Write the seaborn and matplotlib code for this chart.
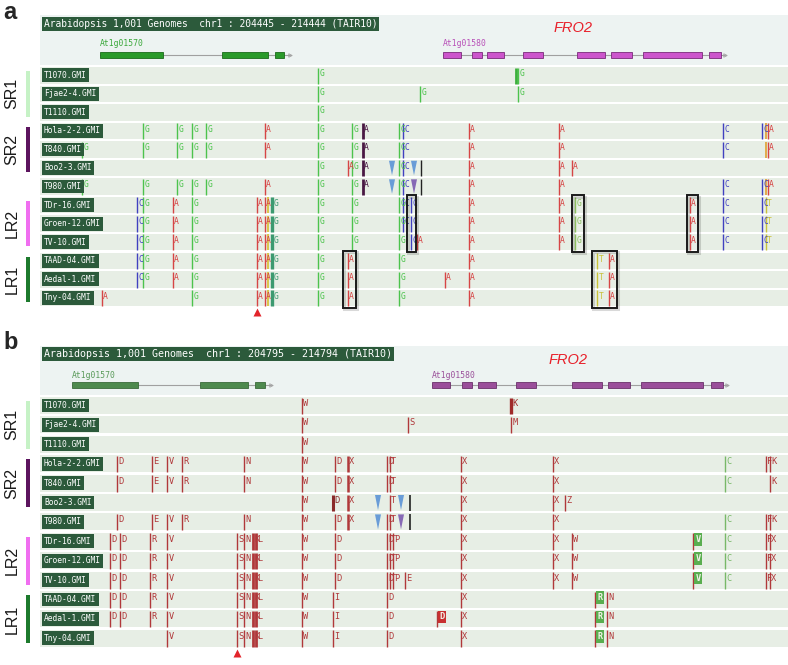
import matplotlib
matplotlib.use("Agg")
import matplotlib.pyplot as plt
import matplotlib.transforms as mtransforms
from matplotlib.patches import Rectangle, Polygon
import seaborn as sns

#%% data
samples = ['T1070.GMI', 'Fjae2-4.GMI', 'T1110.GMI', 'Hola-2-2.GMI', 'T840.GMI',
           'Boo2-3.GMI', 'T980.GMI', 'TDr-16.GMI', 'Groen-12.GMI', 'TV-10.GMI',
           'TAAD-04.GMI', 'Aedal-1.GMI', 'Tny-04.GMI']
groups = ['SR1', 'SR2', 'LR2', 'LR1']
group_first = [0, 3, 7, 10]
group_last = [2, 5, 9, 12]

# gene models (TAIR10, chr1)
genes = ['At1g01570', 'At1g01580']
gene_exon_starts = [[205247, 206878, 207587],
                    [209833, 210221, 210421, 210903, 211625, 212079, 212507, 213390]]
gene_exon_ends = [[206089, 207493, 207707],
                  [210074, 210354, 210648, 211170, 211999, 212360, 213296, 213550]]
gene_ends = [207787, 213603]
fro2_center = 211570

# panel a: nucleotide polymorphisms ('' = unlabeled mark)
a_header = 'Arabidopsis 1,001 Genomes  chr1 : 204445 - 214444 (TAIR10)'
a_pos = [205007, 205274, 205742, 205822, 206223, 206277, 206477, 206664, 207346, 207453,
         207493, 207547, 208162, 208563, 208616, 208763, 209245, 209298, 209405, 209485,
         209525, 209539, 209860, 210181, 210809, 210836, 211384, 211558, 211597, 211892,
         212052, 213135, 213576, 214098, 214151, 214151, 214178]
a_allele = ['G', 'A', 'C', 'G', 'A', 'G', 'G', 'G', 'A', 'A',
            'T', 'G', 'G', 'A', 'G', 'A', 'G', 'C', 'C', 'A',
            'G', '', 'A', 'A', 'G', 'G', 'A', 'A', 'G', 'T',
            'A', 'A', 'C', 'C', 'T', '', 'A']
a_rows = [[4, 6], [12], [7, 8, 9, 10, 11], [3, 4, 6, 7, 8, 9, 10, 11], [7, 8, 9, 10, 11],
          [3, 4, 6], [3, 4, 6, 7, 8, 9, 10, 11, 12], [3, 4, 6], [7, 8, 9, 10, 11, 12],
          [3, 4, 6, 7, 8, 9, 10, 11, 12],
          [7, 8, 9, 10, 11, 12], [7, 8, 9, 10, 11, 12], list(range(13)), [5, 10, 11, 12],
          [3, 4, 5, 6, 7, 8, 9], [3, 4, 5, 6], [3, 4, 5, 6, 7, 8, 9, 10, 11, 12],
          [3, 4, 5, 6, 7, 8], [7, 8, 9], [9],
          [1], [5, 6], [11], [3, 4, 5, 6, 7, 8, 9, 10, 11, 12], [0], [0, 1],
          [3, 4, 5, 6, 7, 8, 9], [5], [7, 8, 9], [10, 11, 12],
          [10, 11, 12], [7, 8, 9], [3, 4, 6, 7, 8, 9], [3, 6, 7, 8, 9], [7, 8, 9], [3, 4, 6],
          [3, 4, 6]]
a_indel_pos = [209151, 209151, 209445, 209445]
a_indel_row = [5, 6, 5, 6]
a_indel_kind = ['ins', 'ins', 'ins', 'del']
a_frame_start = [208496, 209352, 211558, 213095, 211825]
a_frame_end = [208670, 209472, 211718, 213242, 212159]
a_frame_rows = [(10, 12), (7, 9), (7, 9), (7, 9), (10, 12)]
a_pointer = 207350

# panel b: amino-acid changes
b_header = 'Arabidopsis 1,001 Genomes  chr1 : 204795 - 214794 (TAIR10)'
b_pos = [205737, 205826, 205864, 206246, 206272, 206463, 206654, 207355, 207444, 207558,
         207597, 208183, 208578, 208578, 208603, 208769, 209265, 209304, 209342, 209495,
         209533, 209558, 209902, 210208, 210845, 210845, 211380, 211533, 211622, 211915,
         212068, 213164, 213571, 214094, 214144, 214144]
b_allele = ['D', 'D', 'D', 'R', 'E', 'V', 'R', 'S', 'N', 'K',
            'L', 'W', 'D', 'I', 'D', 'X', 'D', 'T', 'P', 'E',
            'S', '', 'D', 'X', 'K', 'M', 'X', 'Z', 'W', 'R',
            'N', 'V', 'C', 'F', 'K', 'X']
b_rows = [[7, 8, 9, 10, 11], [3, 4, 6], [7, 8, 9, 10, 11], [7, 8, 9, 10, 11], [3, 4, 6],
          [3, 4, 6, 7, 8, 9, 10, 11, 12], [3, 4, 6], [7, 8, 9, 10, 11, 12],
          [3, 4, 6, 7, 8, 9, 10, 11, 12], [7, 8, 9, 10, 11, 12],
          [7, 8, 9, 10, 11, 12], list(range(13)), [5], [10, 11, 12], [3, 4, 6, 7, 8, 9],
          [3, 4, 5, 6], [3, 4, 6, 7, 8, 9, 10, 11, 12], [3, 4, 5, 6, 7, 8, 9], [7, 8, 9], [9],
          [1], [5, 6], [11], [3, 4, 5, 6, 7, 8, 9, 10, 11, 12], [0], [1],
          [3, 4, 5, 6, 7, 8, 9], [5], [7, 8, 9], [10, 11, 12],
          [10, 11, 12], [7, 8, 9], [3, 4, 6, 7, 8, 9], [3, 6, 7, 8, 9], [3, 4, 6], [7, 8, 9]]
b_indel_pos = [209151, 209151, 209444, 209444]
b_indel_row = [5, 6, 5, 6]
b_indel_kind = ['ins', 'ins', 'ins', 'del']
b_pointer = 207350

#%% styles
sns.set_theme(style='white')
plt.rcParams['font.family'] = ['DejaVu Sans']
MONO = 'DejaVu Sans Mono'
DARK = '#2c5a3b'
ROW_BG = '#e7eee5'
GENE_BG = '#edf3f2'
group_colors = ['#c6f2c6', '#5c145e', '#f06ef0', '#1d7a2d']
indel_colors = {'ins': '#5b93d6', 'del': '#7c5bb0'}

a_colors = {'G': '#4cc34c', 'A': '#d64545', 'C': '#4040c0', 'T': '#c9c23a', '': '#222222'}
a_special = {(207547, 'G'): ('#3c9a70', 2.4), (208763, 'A'): ('#4a1844', 2.0),
             (210809, 'G'): ('#3cb03c', 2.0), (211597, 'G'): ('#8cc060', 1.0),
             (207493, 'T'): ('#d8c030', 1.2), (214151, ''): ('#e0a030', 1.2)}
a_quiet = {207493, 210809}

b_default = '#b0383a'
b_special = {(213571, 'C'): ('#78b868', 1.0), (209558, ''): ('#222222', 1.2),
             (207558, 'K'): (b_default, 2.0), (207597, 'L'): (b_default, 2.0),
             (208578, 'D'): ('#8a2a2a', 2.2), (208769, 'X'): (b_default, 1.8),
             (210845, 'K'): ('#a02a2a', 2.4)}
b_boxed = {(209902, 'D'): '#c83030', (211915, 'R'): '#5aae50', (213164, 'V'): '#5aae50'}

# layout in figure pixels
a_layout = dict(bg=(15, 65), hdr=24, lab=44, exon=54.5, row0=67, pitch=18.55, h=16.5,
                hdr_fs=6.9, letter_fs=5.8, fro2_y=28)
b_layout = dict(bg=(346, 395), hdr=354, lab=375, exon=384.5, row0=397, pitch=19.4, h=17,
                hdr_fs=7.2, letter_fs=6.2, fro2_y=360)

W, H = 788, 665
fig = plt.figure(figsize=(W / 100, H / 100), dpi=100)
fig.patch.set_facecolor('white')

ov = fig.add_axes([0, 0, 1, 1])
ov.set_xlim(0, W)
ov.set_ylim(H, 0)
ov.axis('off')


def panel_axes(y0, y1, view):
    ax = fig.add_axes([40 / W, 1 - y1 / H, 748 / W, (y1 - y0) / H])
    ax.set_xlim(*view)
    ax.set_ylim(y1, y0)
    ax.axis('off')
    return ax


def draw_panel(ax, L, header, pos, allele, rows, special, default_col, boxed, quiet,
               ind_pos, ind_row, ind_kind, pointer, gene_cols):
    x0, x1 = ax.get_xlim()
    bp = (x1 - x0) / 748.0
    offs = mtransforms.offset_copy(ax.transData, fig=fig, x=1.3, y=0, units='dots')
    offs_box = mtransforms.offset_copy(ax.transData, fig=fig, x=2.5, y=0, units='dots')
    lab_tr = mtransforms.blended_transform_factory(ax.transAxes, ax.transData)

    ax.axhspan(L['bg'][0], L['bg'][1], color=GENE_BG, lw=0, zorder=0)
    ax.text(x0 + 4 * bp, L['hdr'], header, family=MONO, fontsize=L['hdr_fs'], color='white',
            va='center', ha='left',
            bbox=dict(boxstyle='square,pad=0.2', fc=DARK, ec='none'), zorder=5)

    # gene models
    for g in range(len(genes)):
        fc, ec, tc = gene_cols[g]
        ax.plot([gene_exon_starts[g][0], gene_ends[g]], [L['exon'], L['exon']],
                color='#a0a0a0', lw=0.8, zorder=1)
        ax.plot(gene_ends[g], L['exon'], marker='>', ms=2.5, mfc='none', mec='#a0a0a0',
                mew=0.6, zorder=1)
        for s, e in zip(gene_exon_starts[g], gene_exon_ends[g]):
            ax.add_patch(Rectangle((s, L['exon'] - 3), e - s, 6, fc=fc, ec=ec, lw=0.6, zorder=2))
        ax.text(gene_exon_starts[g][0], L['lab'], genes[g], family=MONO, fontsize=5.8,
                color=tc, va='center', ha='left')
    ax.text(fro2_center, L['fro2_y'], 'FRO2', family='Liberation Sans', style='italic',
            fontsize=10.5, color='#e8202a', ha='center', va='center')

    # tracks
    tops = [L['row0'] + i * L['pitch'] for i in range(len(samples))]
    for i, name in enumerate(samples):
        ax.axhspan(tops[i], tops[i] + L['h'], color=ROW_BG, lw=0, zorder=0)
        ax.text(4 / 748, tops[i] + L['h'] / 2, name, transform=lab_tr, family=MONO,
                fontsize=5.7, color='white', va='center', ha='left',
                bbox=dict(boxstyle='square,pad=0.3', fc=DARK, ec='none'), zorder=8)

    for p, al, rr in zip(pos, allele, rows):
        col, lw = special.get((p, al), (default_col(al), 1.0))
        for r in rr:
            t = tops[r]
            ax.vlines(p, t + 0.5, t + L['h'], colors=col, lw=lw, zorder=3)
            if al == '' or (p in quiet):
                continue
            if (p, al) in boxed:
                ax.text(p, t + 6.5, al, transform=offs_box, family=MONO,
                        fontsize=L['letter_fs'], color='#f2f2e8', va='center', ha='left',
                        fontweight='bold',
                        bbox=dict(boxstyle='square,pad=0.2', fc=boxed[(p, al)], ec='none'),
                        zorder=4)
            else:
                ax.text(p, t + 6.5, al, transform=offs, family=MONO,
                        fontsize=L['letter_fs'], color=col, va='center', ha='left', zorder=4)

    for p, r, k in zip(ind_pos, ind_row, ind_kind):
        t = tops[r]
        ax.add_patch(Polygon([(p - 3 * bp, t + 1), (p + 3 * bp, t + 1), (p, t + L['h'] - 1)],
                             closed=True, fc=indel_colors[k], ec='none', alpha=0.9, zorder=6))

    ax.plot(pointer, tops[-1] + L['h'] + 6, marker='^', ms=5.5, color='#e3242b',
            mec='none', clip_on=False, zorder=6)

    # accession group bars
    for g, name in enumerate(groups):
        y0 = tops[group_first[g]] + 4
        y1 = tops[group_last[g]] + L['h'] - 4
        ov.add_patch(Rectangle((26.5, y0), 4, y1 - y0, fc=group_colors[g], ec='none'))
        ov.text(12, (y0 + y1) / 2, name, rotation=90, family='Liberation Sans',
                fontsize=11.5, color='#1a1a1a', ha='center', va='center')
    return tops, bp


#%% panel a
ax_a = panel_axes(12, 318, (204445, 214445))
tops_a, bp_a = draw_panel(
    ax_a, a_layout, a_header, a_pos, a_allele, a_rows, a_special,
    lambda al: a_colors[al], {}, a_quiet,
    a_indel_pos, a_indel_row, a_indel_kind, a_pointer,
    [('#2a9a2a', '#1a6a1a', '#3aa83a'), ('#cc55cc', '#7a2a7a', '#b850b8')])

# boxes around group-specific variants
for s, e, (r0, r1) in zip(a_frame_start, a_frame_end, a_frame_rows):
    y0 = tops_a[r0] - 1.5
    y1 = tops_a[r1] + a_layout['h'] + 1.5
    ax_a.add_patch(Rectangle((s + 1.2 * bp_a, y0 + 1.2), e - s, y1 - y0, fill=False,
                             ec='#000000', lw=2.2, alpha=0.15, zorder=6))
    ax_a.add_patch(Rectangle((s, y0), e - s, y1 - y0, fill=False, ec='#1a1a1a', lw=1.4, zorder=7))

#%% panel b
ax_b = panel_axes(342, 662, (204845, 214374))
draw_panel(
    ax_b, b_layout, b_header, b_pos, b_allele, b_rows, b_special,
    lambda al: '#222222' if al == '' else b_default, b_boxed, set(),
    b_indel_pos, b_indel_row, b_indel_kind, b_pointer,
    [('#4e8a4e', '#3a6a3a', '#5a9a5a'), ('#9a4e9a', '#6a306a', '#9a509a')])

ov.text(3, 1, 'a', fontsize=17, fontweight='bold', family='Liberation Sans', va='top', ha='left')
ov.text(3, 331, 'b', fontsize=17, fontweight='bold', family='Liberation Sans', va='top', ha='left')

fig.savefig('out.png', dpi=100)
